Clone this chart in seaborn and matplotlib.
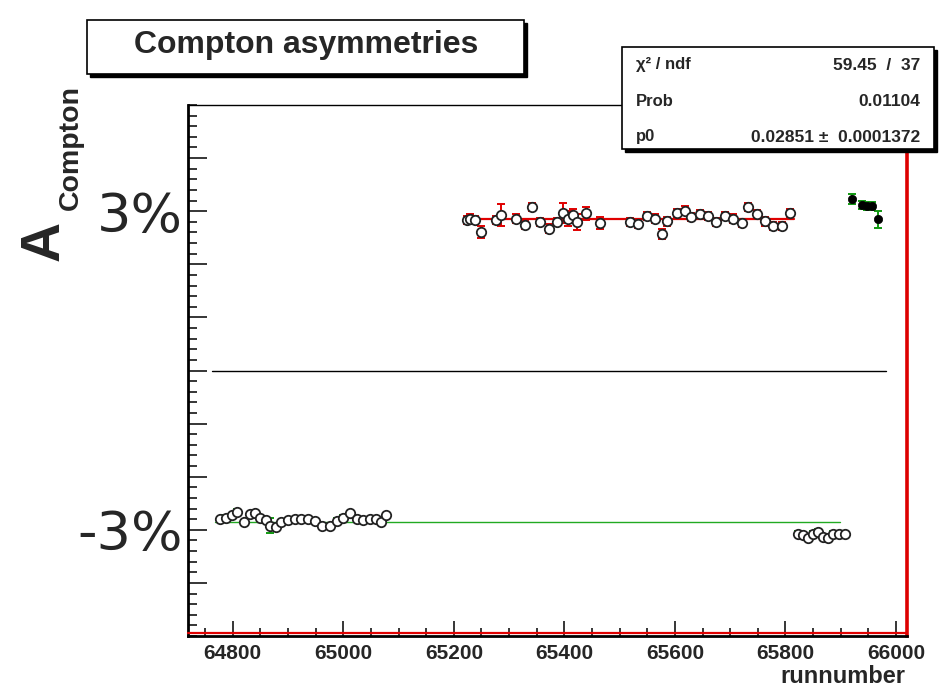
import numpy as np
import pandas as pd
import matplotlib
matplotlib.use("Agg")
import matplotlib.pyplot as plt
import matplotlib.transforms as mtransforms
from matplotlib.patches import Rectangle
from matplotlib.ticker import FixedLocator, MultipleLocator
import seaborn as sns

# ---------------- data (asymmetries in %) ----------------
red_run = [65223, 65229, 65238, 65250, 65277, 65286, 65313, 65328, 65342, 65356,
           65373, 65386, 65398, 65406, 65416, 65422, 65440, 65464, 65519, 65534,
           65549, 65564, 65576, 65586, 65603, 65618, 65630, 65645, 65660, 65675,
           65690, 65706, 65721, 65733, 65748, 65763, 65778, 65793, 65808]
red_val = [2.83, 2.86, 2.83, 2.61, 2.83, 2.93, 2.86, 2.74, 3.08, 2.80,
           2.67, 2.80, 2.97, 2.86, 2.93, 2.80, 2.96, 2.78, 2.80, 2.76,
           2.91, 2.86, 2.57, 2.81, 2.96, 3.01, 2.89, 2.95, 2.91, 2.80,
           2.91, 2.86, 2.78, 3.08, 2.95, 2.81, 2.72, 2.72, 2.97]
red_err = [0.08, 0.08, 0.08, 0.12, 0.08, 0.20, 0.08, 0.08, 0.08, 0.08,
           0.08, 0.08, 0.19, 0.14, 0.12, 0.15, 0.12, 0.12, 0.08, 0.08,
           0.08, 0.08, 0.09, 0.08, 0.08, 0.08, 0.08, 0.08, 0.08, 0.08,
           0.08, 0.08, 0.08, 0.08, 0.08, 0.08, 0.08, 0.08, 0.08]

gl_run = [64777, 64787, 64798, 64808, 64821, 64831, 64840, 64849, 64861, 64867,
          64879, 64888, 64900, 64912, 64924, 64936, 64948, 64961, 64976, 64988,
          65000, 65012, 65024, 65036, 65048, 65060, 65069, 65078]
gl_val = [-2.80, -2.77, -2.73, -2.66, -2.86, -2.71, -2.69, -2.77, -2.82, -2.92,
          -2.94, -2.86, -2.82, -2.80, -2.80, -2.80, -2.83, -2.92, -2.92, -2.83,
          -2.77, -2.69, -2.80, -2.82, -2.80, -2.80, -2.85, -2.73]
gl_err = [0.05, 0.05, 0.05, 0.05, 0.05, 0.05, 0.05, 0.05, 0.05, 0.14,
          0.05, 0.05, 0.05, 0.05, 0.05, 0.05, 0.05, 0.05, 0.05, 0.05,
          0.05, 0.05, 0.05, 0.05, 0.05, 0.05, 0.05, 0.05]

gr_run = [65823, 65832, 65841, 65850, 65859, 65868, 65877, 65886, 65897, 65908]
gr_val = [-3.08, -3.10, -3.16, -3.08, -3.04, -3.13, -3.16, -3.08, -3.08, -3.08]
gr_err = [0.05, 0.05, 0.05, 0.05, 0.05, 0.05, 0.05, 0.05, 0.05, 0.05]

bk_run = [65920, 65938, 65948, 65957, 65967]
bk_val = [3.23, 3.12, 3.10, 3.10, 2.85]
bk_err = [0.10, 0.07, 0.07, 0.07, 0.16]

red_fit_val = 2.851
red_fit_range = [65220, 65815]
green_fit_val = -2.85
green_fit_range = [64768, 65898]
zero_range = [64762, 65982]

x_limits = [64719, 66020]
y_limits = [-5.0, 5.0]
x_major = [64800, 65000, 65200, 65400, 65600, 65800, 66000]
y_major = [-4, -3, -2, -1, 0, 1, 2, 3, 4]
y_labels = ["", "-3%", "", "", "", "", "", "3%", ""]

title_text = "Compton asymmetries"
stat_names = ["\u03c7\u00b2 / ndf", "Prob", "p0"]
stat_values = ["59.45  /  37", "0.01104", "0.02851 \u00b1  0.0001372"]

# ---------------- style ----------------
sns.set_style("ticks")
plt.rcParams['font.family'] = ['Liberation Sans', 'DejaVu Sans']

W, H = 943, 690
fig = plt.figure(figsize=(W / 100, H / 100), dpi=100)
ax = fig.add_axes([188 / W, 1 - 636 / H, (907 - 188) / W, (636 - 105) / H])

def frame(run, val, err, grp):
    return pd.DataFrame({"run": run, "A": np.array(val) / 100.0,
                         "err": np.array(err) / 100.0, "group": grp})

d_red = frame(red_run, red_val, red_err, "red")
d_gl = frame(gl_run, gl_val, gl_err, "gl")
d_gr = frame(gr_run, gr_val, gr_err, "gr")
d_bk = frame(bk_run, bk_val, bk_err, "bk")

# reference / fit lines
ax.plot(zero_range, [0, 0], color="black", lw=1.0, zorder=1)
ax.plot(red_fit_range, [red_fit_val / 100] * 2, color="#e00000", lw=1.6, zorder=2)
ax.plot(green_fit_range, [green_fit_val / 100] * 2, color="#22aa22", lw=1.0, zorder=2)

# error bars
for d, c in [(d_red, "#e00000"), (d_gl, "#119911"), (d_gr, "#119911"), (d_bk, "#119911")]:
    ax.errorbar(d["run"], d["A"], yerr=d["err"], fmt="none", ecolor=c,
                elinewidth=1.4, capsize=3.2, capthick=1.4, zorder=3)

# markers
for d in [d_red, d_gl, d_gr]:
    sns.scatterplot(data=d, x="run", y="A", ax=ax, marker="o", s=46,
                    facecolor="white", edgecolor="#222222", linewidth=1.3,
                    zorder=4, legend=False)
sns.scatterplot(data=d_bk, x="run", y="A", ax=ax, marker="o", s=36,
                color="black", edgecolor="black", linewidth=0.5, zorder=4, legend=False)

ax.set_xlim(x_limits)
ax.set_ylim(np.array(y_limits) / 100)
ax.set_xlabel("")
ax.set_ylabel("")

ax.xaxis.set_major_locator(FixedLocator(x_major))
ax.xaxis.set_minor_locator(MultipleLocator(50))
ax.set_xticklabels([str(v) for v in x_major], fontsize=15, fontweight="bold")
ax.yaxis.set_major_locator(FixedLocator(np.array(y_major) / 100))
ax.yaxis.set_minor_locator(MultipleLocator(0.002))
ax.set_yticklabels(y_labels, fontsize=39, family="DejaVu Sans")

ax.tick_params(axis="both", which="both", direction="in", top=False, right=False, width=1.3)
ax.tick_params(axis="y", which="major", length=14, pad=4)
ax.tick_params(axis="y", which="minor", length=6.5)
ax.tick_params(axis="x", which="major", length=11, pad=6)
ax.tick_params(axis="x", which="minor", length=5.5)

for s in ["left", "bottom"]:
    ax.spines[s].set_linewidth(2.0)
    ax.spines[s].set_color("black")
ax.spines["top"].set_linewidth(1.0)
ax.spines["top"].set_color("black")
ax.spines["right"].set_linewidth(2.6)
ax.spines["right"].set_color("#dd0000")

# red line just inside bottom frame
off = mtransforms.offset_copy(ax.transAxes, fig=fig, x=0, y=2.0, units="points")
ax.plot([0, 1], [0, 0], transform=off, color="#e00000", lw=1.6, zorder=5, clip_on=False)

# x axis title
fig.text(905 / W, 1 - 688 / H, "runnumber", ha="right", va="bottom",
         fontsize=17, fontweight="bold")

# y axis title A_Compton
fig.text(45 / W, 1 - 241 / H, "A", rotation=90, ha="center", va="center",
         fontsize=40, fontweight="bold")
fig.text(71 / W, 1 - 148 / H, "Compton", rotation=90, ha="center", va="center",
         fontsize=20.5, fontweight="bold")

# boxes with shadow
def shadow_box(x0, y0, x1, y1, sh=4):
    fig.patches.append(Rectangle(((x0 + sh) / W, 1 - (y1 + sh) / H), (x1 - x0) / W, (y1 - y0) / H,
                                 transform=fig.transFigure, facecolor="black",
                                 edgecolor="black", zorder=10))
    fig.patches.append(Rectangle((x0 / W, 1 - y1 / H), (x1 - x0) / W, (y1 - y0) / H,
                                 transform=fig.transFigure, facecolor="white",
                                 edgecolor="black", lw=1.2, zorder=11))

shadow_box(87, 20, 524, 74, sh=3)
fig.text(306 / W, 1 - 45 / H, title_text, ha="center", va="center",
         fontsize=23, fontweight="bold", zorder=12)

shadow_box(622, 47, 934, 149, sh=3)
for i, (nm, vl) in enumerate(zip(stat_names, stat_values)):
    yy = 1 - (65 + 36 * i) / H
    fig.text(636 / W, yy, nm, ha="left", va="center", fontsize=12,
             fontweight="bold", zorder=12)
    fig.text(920 / W, yy, vl, ha="right", va="center", fontsize=12.5,
             fontweight="bold", zorder=12)

fig.savefig("out.png", dpi=100)
